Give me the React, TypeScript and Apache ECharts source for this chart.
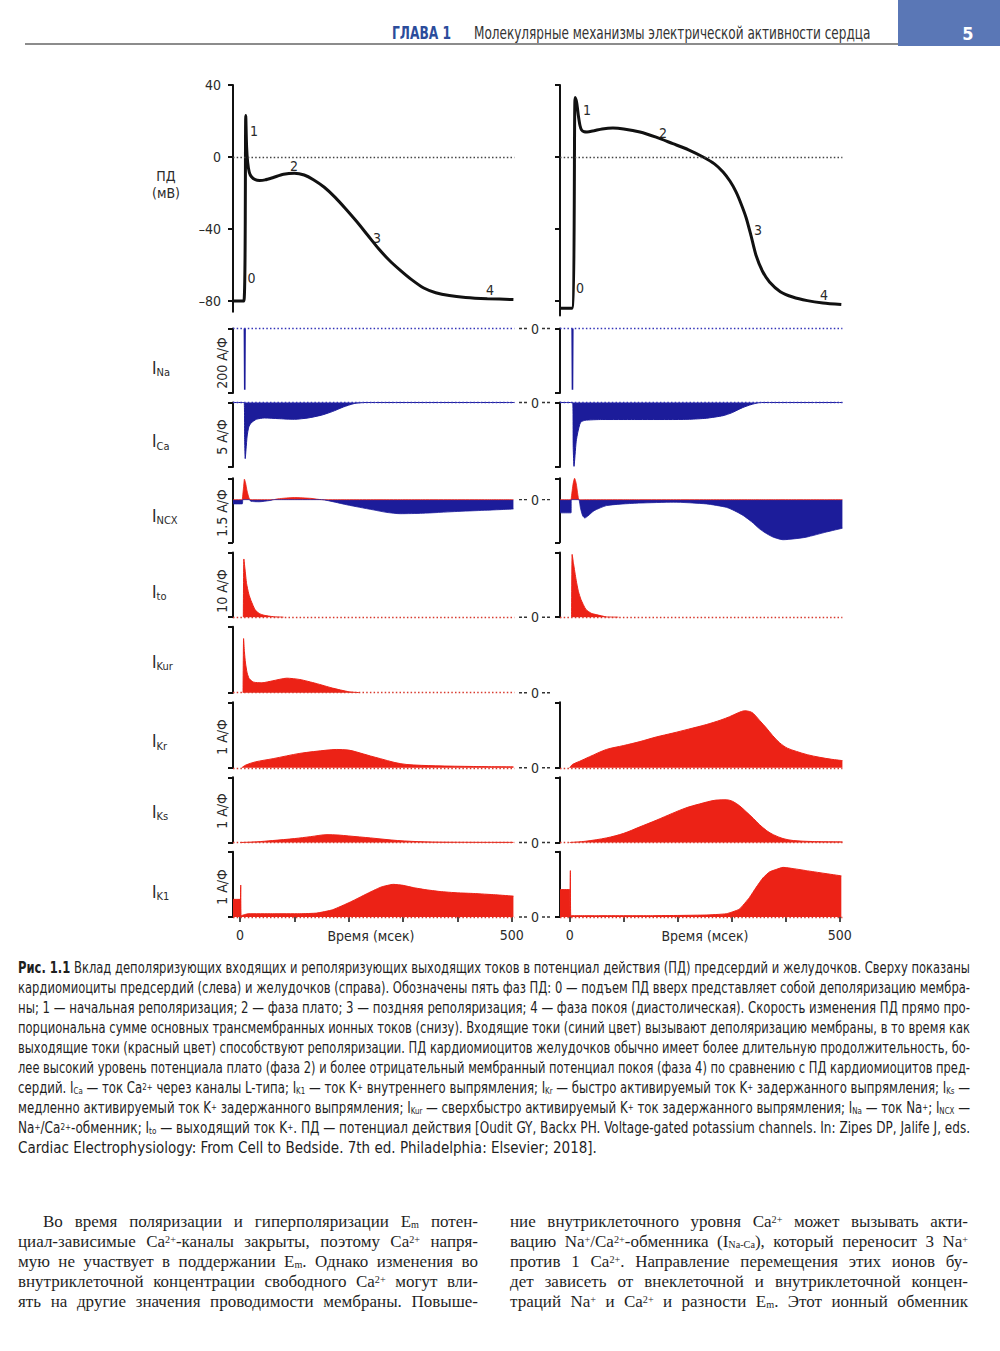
import React, { useEffect, useLayoutEffect, useRef } from "react";
import * as echarts from "echarts";

const SANS = "'Liberation Sans Narrow', 'Arial Narrow', 'DejaVu Sans Condensed', sans-serif";
const SERIF = "'Liberation Serif', 'DejaVu Serif', serif";
const BLUE = "#1c1c9a";
const RED = "#ec2216";
const INK = "#2a2a2a";
const AXIS = "#111";

// ---- ticks / ranges ----
const timeTicks = [0, 100, 200, 300, 400, 500];
const timeLabels = [0, 500];
const apTicks = [40, 0, -40, -80];
const leftRange = [-13, 505];
const rightRange = [-18, 505];

// ---- action potentials (ms, mV) ----
const apAtrial: number[][] = [
  [-13, -80], [7, -80], [10.5, 23], [12, 6], [14, -3], [17, -8.5], [21, -11], [28, -12.6], [36, -13],
  [46, -12.7], [60, -11.5], [80, -9.6], [100, -9], [118, -10], [135, -12.6], [155, -16.8], [175, -22.4],
  [195, -29], [215, -36], [235, -43.5], [255, -51], [275, -57.5], [295, -63], [315, -68], [338, -72.8],
  [360, -75.4], [385, -77], [415, -78], [455, -78.7], [503, -79.2],
];
const apVentricular: number[][] = [
  [-18, -84], [4, -84], [10, 33], [13, 30], [16, 23], [19, 17.5], [22, 15], [27, 14], [32, 13.9], [45, 14.6],
  [60, 15.6], [80, 16.1], [100, 15.6], [130, 13.9], [160, 11], [191, 7.4], [220, 4], [247, 0], [268, -3.8],
  [284, -8.3], [297, -13.5], [308, -19.4], [318, -26.5], [327, -34], [336, -44], [345, -54.6], [357, -63.5],
  [370, -69.4], [390, -74.8], [413, -77.8], [440, -79.8], [469, -81.1], [503, -82],
];

// ---- ionic currents (ms, А/Ф) ----
const iNaAtrial: number[][] = [[8, 0], [8.6, -190], [9.2, 0]];
const iNaVentricular: number[][] = [[4.5, 0], [5.1, -190], [5.7, 0]];

const iCaAtrial: number[][] = [
  [-13, 0], [7.5, 0], [8.5, -3.0], [9.5, -4.35], [11, -3.6], [13, -2.6], [16, -1.9], [20, -1.6], [30, -1.3],
  [45, -1.2], [70, -1.25], [100, -1.3], [125, -1.2], [150, -0.98], [170, -0.7], [190, -0.35], [210, -0.08],
  [230, 0], [505, 0],
];
const iCaVentricular: number[][] = [
  [-18, 0], [5.5, 0], [6.5, -3.5], [8, -4.95], [10, -4.0], [12, -3.0], [15, -2.3], [20, -1.55], [28, -1.38],
  [60, -1.32], [120, -1.32], [190, -1.32], [222, -1.3], [253, -1.22], [284, -1.02], [300, -0.8], [308, -0.64],
  [320, -0.4], [333, -0.2], [345, -0.06], [355, 0], [505, 0],
];

const iNcxAtrial: number[][] = [
  [-13, -0.1], [4, -0.1], [5, 0], [6.5, 0.3], [8, 0.48], [10, 0.4], [13, 0.2], [17, 0.02], [20, -0.04],
  [35, -0.05], [55, -0.02], [62, 0], [70, 0.02], [100, 0.05], [130, 0.03], [150, 0], [175, -0.06],
  [196, -0.12], [220, -0.18], [245, -0.24], [270, -0.3], [295, -0.33], [336, -0.32], [395, -0.28],
  [450, -0.25], [503, -0.22],
];
const iNcxVentricular: number[][] = [
  [-18, -0.31], [2.5, -0.31], [3, 0], [6, 0.35], [9, 0.5], [12, 0.38], [15, 0.12], [17, 0], [20, -0.2],
  [24, -0.38], [28, -0.43], [34, -0.38], [45, -0.26], [68, -0.14], [100, -0.1], [130, -0.08], [192, -0.06],
  [253, -0.1], [290, -0.18], [305, -0.26], [321, -0.37], [337, -0.52], [352, -0.69], [365, -0.8], [377, -0.88],
  [395, -0.94], [415, -0.92], [438, -0.88], [475, -0.76], [505, -0.67],
];

const iToAtrial: number[][] = [
  [6, 0], [7, 9.0], [9, 7.5], [12, 5.2], [16, 3.6], [20, 2.6], [28, 1.1], [36, 0.55], [44, 0.3],
  [61, 0.08], [80, 0],
];
const iToVentricular: number[][] = [
  [3.5, 0], [4.5, 9.7], [7, 8.3], [12, 5.7], [16, 4.0], [21, 2.7], [30, 1.2], [40, 0.6], [49, 0.4],
  [68, 0.05], [90, 0],
];

const iKurAtrial: number[][] = [
  [5.5, 0], [6.5, 0.82], [8, 0.62], [10, 0.45], [13, 0.3], [17, 0.21], [25, 0.16], [40, 0.15],
  [60, 0.18], [86, 0.22], [110, 0.2], [140, 0.14], [170, 0.07], [200, 0.015], [220, 0],
];

const iKrAtrial: number[][] = [
  [3, 0], [10, 0.04], [28, 0.09], [61, 0.14], [110, 0.22], [160, 0.27], [178, 0.28], [200, 0.27],
  [215, 0.24], [240, 0.18], [258, 0.14], [285, 0.08], [307, 0.05], [360, 0.03], [430, 0.02], [503, 0.015],
];
const iKrVentricular: number[][] = [
  [0, 0], [5, 0.05], [18.5, 0.1], [37, 0.17], [68, 0.28], [100, 0.34], [130, 0.4], [160, 0.47],
  [191, 0.53], [220, 0.59], [253, 0.66], [280, 0.73], [296, 0.78], [312, 0.84], [324, 0.87], [333, 0.86],
  [340, 0.83], [352, 0.72], [364, 0.61], [376, 0.49], [389, 0.38], [403, 0.3], [420, 0.25], [440, 0.2],
  [463, 0.16], [485, 0.13], [505, 0.11],
];

const iKsAtrial: number[][] = [
  [0, 0], [30, 0.01], [60, 0.03], [100, 0.06], [130, 0.09], [160, 0.12], [180, 0.115], [200, 0.1],
  [240, 0.07], [290, 0.03], [340, 0.01], [400, 0.004], [503, 0.002],
];
const iKsVentricular: number[][] = [
  [0, 0], [30, 0.02], [68, 0.07], [100, 0.14], [130, 0.24], [160, 0.34], [191, 0.45], [215, 0.53],
  [240, 0.59], [271, 0.65], [290, 0.655], [302, 0.63], [315, 0.56], [327, 0.47], [340, 0.37], [352, 0.27],
  [365, 0.18], [377, 0.12], [395, 0.06], [414, 0.03], [450, 0.015], [505, 0.01],
];

const iK1Atrial: number[][] = [
  [-13, 0.27], [0, 0.27], [0.3, 0.01], [1.2, 0.49], [2, 0.02], [15, 0.05], [60, 0.05], [110, 0.05],
  [141, 0.06], [170, 0.11], [203, 0.23], [239, 0.38], [260, 0.46], [282, 0.5], [300, 0.485], [319, 0.45],
  [340, 0.42], [368, 0.39], [400, 0.37], [430, 0.36], [470, 0.34], [503, 0.32],
];
const iK1Ventricular: number[][] = [
  [-18, 0.42], [0, 0.42], [0.3, 0.01], [1.2, 0.71], [2, 0.02], [50, 0.02], [150, 0.02], [250, 0.03],
  [290, 0.05], [314, 0.12], [333, 0.3], [345, 0.45], [358, 0.6], [370, 0.69], [383, 0.73], [395, 0.76],
  [415, 0.74], [438, 0.71], [470, 0.67], [503, 0.63],
];

// ---- rows ----
const rows = [
  { sub: "Na", scale: "200 А/Ф", min: -200, max: 0, atrial: iNaAtrial, ventricular: iNaVentricular, color: BLUE, split: false, smooth: false },
  { sub: "Ca", scale: "5 А/Ф", min: -5, max: 0, atrial: iCaAtrial, ventricular: iCaVentricular, color: BLUE, split: false, smooth: 0.2 },
  { sub: "NCX", scale: "1.5 А/Ф", min: -1, max: 0.5, atrial: iNcxAtrial, ventricular: iNcxVentricular, color: BLUE, split: true, smooth: 0.2 },
  { sub: "to", scale: "10 А/Ф", min: 0, max: 10, atrial: iToAtrial, ventricular: iToVentricular, color: RED, split: false, smooth: 0.2 },
  { sub: "Kur", scale: "", min: 0, max: 1, atrial: iKurAtrial, ventricular: null, color: RED, split: false, smooth: 0.2 },
  { sub: "Kr", scale: "1 А/Ф", min: 0, max: 1, atrial: iKrAtrial, ventricular: iKrVentricular, color: RED, split: false, smooth: 0.3 },
  { sub: "Ks", scale: "1 А/Ф", min: 0, max: 1, atrial: iKsAtrial, ventricular: iKsVentricular, color: RED, split: false, smooth: 0.3 },
  { sub: "K1", scale: "1 А/Ф", min: 0, max: 1, atrial: iK1Atrial, ventricular: iK1Ventricular, color: RED, split: false, smooth: 0.15 },
];

// ---- layout (pixels) ----
const LEFT_X = 233, LEFT_W = 281.5, RIGHT_X = 560, RIGHT_W = 282.4;
const AP_TOP = 85, AP_H_L = 226.8, AP_H_R = 230.4;
const rowTops = [328.5, 402.5, 478.3, 552.5, 626.7, 702.3, 777.3, 851.7];
const rowHeights = [64.5, 64.5, 64, 64.7, 66, 65.5, 65.2, 65.3];
const rowLabelY = [367.5, 441, 515.5, 591.5, 661.5, 741, 811.5, 891.5];
const scaleLabelY = [363, 437, 513, 591, 0, 737, 811, 887];

function txt(x: number, y: number, text: string, size: number, extra: any = {}) {
  const { align = "center", vAlign = "middle", weight = "normal", fill = INK, family = SANS, rotation = 0, scaleX = 1 } = extra;
  return {
    type: "text", x, y, rotation, scaleX, silent: true,
    style: {
      text, x: 0, y: 0, fill, font: `${weight} ${size}px ${family}`,
      textAlign: align, textVerticalAlign: vAlign, align, verticalAlign: vAlign,
    },
  };
}

function buildOption() {
  const grid: any[] = [], xAxis: any[] = [], yAxis: any[] = [], series: any[] = [];
  const graphic: any[] = [];

  const addGrid = (left: number, width: number, top: number, height: number, range: number[], showX: boolean) => {
    const i = grid.length;
    grid.push({ left, top, width, height, containLabel: false, outerBoundsMode: "none" });
    xAxis.push({
      gridIndex: i, type: "value", min: range[0], max: range[1], show: showX,
      axisLine: { show: false, onZero: false },
      axisTick: { show: showX, customValues: timeTicks, length: 5, lineStyle: { color: AXIS, width: 1.5 } },
      axisLabel: { show: showX, customValues: timeLabels, margin: 11, fontSize: 14, color: INK, fontFamily: SANS },
      splitLine: { show: false },
    });
    return i;
  };

  const zeroLine = (color: string) => ({
    silent: true, symbol: ["none", "none"], label: { show: false }, animation: false,
    lineStyle: { color, type: [1.5, 2.2], width: 1.3 }, emphasis: { disabled: true },
    data: [{ yAxis: 0 }],
  });

  // action potentials
  const apSides = [
    { x: LEFT_X, w: LEFT_W, h: AP_H_L, range: leftRange, min: -86, data: apAtrial, labels: true },
    { x: RIGHT_X, w: RIGHT_W, h: AP_H_R, range: rightRange, min: -88, data: apVentricular, labels: false },
  ];
  apSides.forEach((s) => {
    const gi = addGrid(s.x, s.w, AP_TOP, s.h, s.range, false);
    yAxis.push({
      gridIndex: gi, type: "value", min: s.min, max: 40,
      axisLine: { show: true, onZero: false, lineStyle: { color: AXIS, width: 2 } },
      axisTick: { show: true, customValues: apTicks, length: 5, lineStyle: { color: AXIS, width: 2 } },
      axisLabel: {
        show: s.labels, customValues: apTicks, margin: 12, fontSize: 14, color: INK, fontFamily: SANS,
        formatter: (v: number) => String(v).replace("-", "–"),
      },
      splitLine: { show: false },
    });
    series.push({
      type: "line", data: s.data, xAxisIndex: gi, yAxisIndex: gi, symbol: "none", showSymbol: false,
      smooth: 0.25, silent: true, lineStyle: { color: "#111", width: 3 }, itemStyle: { color: "#111" },
      z: 3, markLine: zeroLine("#444"),
    });
  });

  // currents
  rows.forEach((row, r) => {
    const top = rowTops[r], h = rowHeights[r];
    const last = r === rows.length - 1;
    const sides = [
      { x: LEFT_X, w: LEFT_W, range: leftRange, data: row.atrial },
      { x: RIGHT_X, w: RIGHT_W, range: rightRange, data: row.ventricular },
    ];
    sides.forEach((s) => {
      const gi = addGrid(s.x, s.w, top, h, s.range, last);
      yAxis.push({
        gridIndex: gi, type: "value", min: row.min, max: row.max, show: !!s.data,
        axisLine: { show: true, onZero: false, lineStyle: { color: AXIS, width: 2 } },
        axisTick: { show: true, customValues: [row.min, row.max], length: 5, lineStyle: { color: AXIS, width: 2 } },
        axisLabel: { show: false },
        splitLine: { show: false },
      });
      if (!s.data) return;
      const base = {
        type: "line", xAxisIndex: gi, yAxisIndex: gi, symbol: "none", showSymbol: false, silent: true,
        smooth: row.smooth,
      };
      if (row.split) {
        series.push({
          ...base, data: s.data.map(([t, v]) => [t, Math.max(v, 0)]),
          lineStyle: { color: RED, width: 0.8 }, itemStyle: { color: RED }, areaStyle: { color: RED, opacity: 1 },
        });
        series.push({
          ...base, data: s.data.map(([t, v]) => [t, Math.min(v, 0)]),
          lineStyle: { color: BLUE, width: 0.8 }, itemStyle: { color: BLUE }, areaStyle: { color: BLUE, opacity: 1 },
        });
      } else {
        series.push({
          ...base, data: s.data,
          lineStyle: { color: row.color, width: r === 0 ? 1.6 : 1 },
          itemStyle: { color: row.color }, areaStyle: { color: row.color, opacity: 1 },
          markLine: zeroLine(row.color === BLUE ? "#3434b8" : "#d83a2e"),
        });
      }
    });

    // row label I_x
    graphic.push(txt(152, rowLabelY[r], "I", 17, { align: "left" }));
    graphic.push(txt(156.5, rowLabelY[r] + 5, row.sub, 11, { align: "left" }));
    if (row.scale) graphic.push(txt(222, scaleLabelY[r], row.scale, 14, { rotation: Math.PI / 2 }));

    // "-- 0 --"
    const zy = top + h * (row.max / (row.max - row.min));
    graphic.push(txt(535, zy, "0", 14));
    graphic.push({ type: "line", silent: true, shape: { x1: 519, y1: zy, x2: 528, y2: zy }, style: { stroke: "#333", lineWidth: 1.4, lineDash: [3, 2] } });
    graphic.push({ type: "line", silent: true, shape: { x1: 542, y1: zy, x2: 551, y2: zy }, style: { stroke: "#333", lineWidth: 1.4, lineDash: [3, 2] } });
  });

  // header
  graphic.push({ type: "rect", silent: true, shape: { x: 898, y: 0, width: 102, height: 46 }, style: { fill: "#5a77b6" } });
  graphic.push({ type: "line", silent: true, shape: { x1: 25, y1: 44, x2: 898, y2: 44 }, style: { stroke: "#8c8c8c", lineWidth: 2 } });
  graphic.push(txt(392, 33, "ГЛАВА 1", 17, { align: "left", weight: "bold", fill: "#2b4c9b", scaleX: 0.8 }));
  graphic.push(txt(474, 33, "Молекулярные механизмы электрической активности сердца", 17, { align: "left", fill: "#333", scaleX: 0.79 }));
  graphic.push(txt(968, 33, "5", 18, { weight: "bold", fill: "#fff" }));

  // AP annotations
  graphic.push(txt(166, 176, "ПД", 14));
  graphic.push(txt(166, 193, "(мВ)", 14));
  const phaseLabels = [
    [251.5, 278, "0"], [254, 131, "1"], [294, 166, "2"], [377, 238, "3"], [490, 290, "4"],
    [580, 288, "0"], [587, 110, "1"], [663, 133, "2"], [758, 230, "3"], [824, 295, "4"],
  ];
  phaseLabels.forEach(([x, y, t]) => graphic.push(txt(x as number, y as number, t as string, 14)));

  // time axis titles
  graphic.push(txt(371, 936, "Время (мсек)", 14));
  graphic.push(txt(705, 936, "Время (мсек)", 14));

  return { animation: false, backgroundColor: "#fff", grid, xAxis, yAxis, series, graphic };
}

// ---- text helpers ----
const subS: React.CSSProperties = { fontSize: "0.6em", verticalAlign: "-0.14em", lineHeight: 0 };
const supS: React.CSSProperties = { fontSize: "0.6em", verticalAlign: "0.38em", lineHeight: 0 };
const Sb = ({ t }: { t: string }) => <span style={subS}>{t}</span>;
const Sp = ({ t }: { t: string }) => <span style={supS}>{t}</span>;

function JLine(props: { x: number; y: number; w: number; last?: boolean; font: string; size: number; children: any }) {
  return (
    <div
      data-w={props.w}
      data-last={props.last ? "1" : "0"}
      style={{
        position: "absolute", left: props.x, top: props.y - 10, width: props.w, height: 20, lineHeight: "20px",
        fontFamily: props.font, fontSize: props.size, color: "#1f1f1f",
      }}
    >
      <span style={{ display: "inline-block", whiteSpace: "nowrap" }}>{props.children}</span>
    </div>
  );
}

function fitLines(root: HTMLElement) {
  root.querySelectorAll<HTMLElement>("[data-w]").forEach((el) => {
    const w = Number(el.dataset.w);
    const inner = el.firstElementChild as HTMLElement;
    const nat = inner.getBoundingClientRect().width;
    if (nat > w) {
      inner.style.transformOrigin = "0 50%";
      inner.style.transform = `scaleX(${w / nat})`;
    } else if (el.dataset.last !== "1") {
      inner.style.display = "block";
      inner.style.width = w + "px";
      inner.style.whiteSpace = "normal";
      inner.style.textAlign = "justify";
      (inner.style as any).textAlignLast = "justify";
    }
  });
}

const CAP_Y = [968, 988, 1008, 1028, 1048, 1068, 1088, 1108, 1128, 1148];
const BODY_Y = [1222, 1242, 1262, 1282, 1302];

export default function App() {
  const chartRef = useRef<HTMLDivElement>(null);
  const textRef = useRef<HTMLDivElement>(null);

  useLayoutEffect(() => {
    if (textRef.current) fitLines(textRef.current);
  }, []);

  useEffect(() => {
    const el = chartRef.current;
    if (!el) return;
    const chart = echarts.init(el, null, { renderer: "svg" });
    chart.setOption(buildOption() as any);
    return () => chart.dispose();
  }, []);

  const caption = [
    <><b>Рис. 1.1</b> Вклад деполяризующих входящих и реполяризующих выходящих токов в потенциал действия (ПД) предсердий и желудочков. Сверху показаны</>,
    <>кардиомиоциты предсердий (слева) и желудочков (справа). Обозначены пять фаз ПД: 0 — подъем ПД вверх представляет собой деполяризацию мембра-</>,
    <>ны; 1 — начальная реполяризация; 2 — фаза плато; 3 — поздняя реполяризация; 4 — фаза покоя (диастолическая). Скорость изменения ПД прямо про-</>,
    <>порциональна сумме основных трансмембранных ионных токов (снизу). Входящие токи (синий цвет) вызывают деполяризацию мембраны, в то время как</>,
    <>выходящие токи (красный цвет) способствуют реполяризации. ПД кардиомиоцитов желудочков обычно имеет более длительную продолжительность, бо-</>,
    <>лее высокий уровень потенциала плато (фаза 2) и более отрицательный мембранный потенциал покоя (фаза 4) по сравнению с ПД кардиомиоцитов пред-</>,
    <>сердий. I<Sb t="Ca" /> — ток Ca<Sp t="2+" /> через каналы L-типа; I<Sb t="K1" /> — ток K<Sp t="+" /> внутреннего выпрямления; I<Sb t="Kr" /> — быстро активируемый ток K<Sp t="+" /> задержанного выпрямления; I<Sb t="Ks" /> —</>,
    <>медленно активируемый ток K<Sp t="+" /> задержанного выпрямления; I<Sb t="Kur" /> — сверхбыстро активируемый K<Sp t="+" /> ток задержанного выпрямления; I<Sb t="Na" /> — ток Na<Sp t="+" />; I<Sb t="NCX" /> —</>,
    <>Na<Sp t="+" />/Ca<Sp t="2+" />-обменник; I<Sb t="to" /> — выходящий ток K<Sp t="+" />. ПД — потенциал действия [Oudit GY, Backx PH. Voltage-gated potassium channels. In: Zipes DP, Jalife J, eds.</>,
    <>Cardiac Electrophysiology: From Cell to Bedside. 7th ed. Philadelphia: Elsevier; 2018].</>,
  ];
  const bodyLeft = [
    <>Во время поляризации и гиперполяризации E<Sb t="m" /> потен-</>,
    <>циал-зависимые Ca<Sp t="2+" />-каналы закрыты, поэтому Ca<Sp t="2+" /> напря-</>,
    <>мую не участвует в поддержании E<Sb t="m" />. Однако изменения во</>,
    <>внутриклеточной концентрации свободного Ca<Sp t="2+" /> могут вли-</>,
    <>ять на другие значения проводимости мембраны. Повыше-</>,
  ];
  const bodyRight = [
    <>ние внутриклеточного уровня Ca<Sp t="2+" /> может вызывать акти-</>,
    <>вацию Na<Sp t="+" />/Ca<Sp t="2+" />-обменника (I<Sb t="Na-Ca" />), который переносит 3 Na<Sp t="+" /></>,
    <>против 1 Ca<Sp t="2+" />. Направление перемещения этих ионов бу-</>,
    <>дет зависеть от внеклеточной и внутриклеточной концен-</>,
    <>траций Na<Sp t="+" /> и Ca<Sp t="2+" /> и разности E<Sb t="m" />. Этот ионный обменник</>,
  ];

  return (
    <div style={{ position: "absolute", left: 0, top: 0, width: 1000, height: 1351, background: "#fff", overflow: "hidden" }}>
      <div ref={chartRef} style={{ position: "absolute", left: 0, top: 0, width: 1000, height: 1351 }} />
      <div ref={textRef} style={{ position: "absolute", left: 0, top: 0, width: 1000, height: 1351, pointerEvents: "none" }}>
        {caption.map((c, i) => (
          <JLine key={"c" + i} x={18} y={CAP_Y[i]} w={952} last={i === caption.length - 1} font={SANS} size={15}>{c}</JLine>
        ))}
        {bodyLeft.map((c, i) => (
          <JLine key={"l" + i} x={i === 0 ? 43 : 18} y={BODY_Y[i]} w={i === 0 ? 435 : 460} font={SERIF} size={17}>{c}</JLine>
        ))}
        {bodyRight.map((c, i) => (
          <JLine key={"r" + i} x={510} y={BODY_Y[i]} w={458} font={SERIF} size={17}>{c}</JLine>
        ))}
      </div>
    </div>
  );
}
